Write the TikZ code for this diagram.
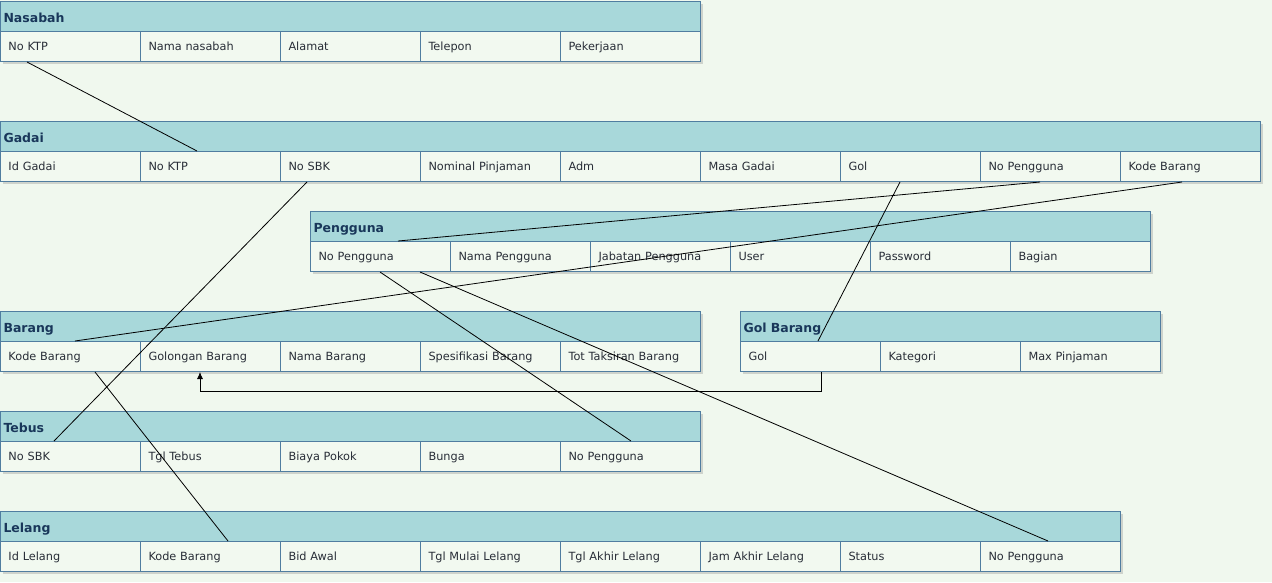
\documentclass[tikz,border=0pt]{standalone}
\usepackage{fontspec}
\setmainfont{DejaVu Sans}
\usepackage{tikz}
\usetikzlibrary{shadows,arrows.meta}
\definecolor{bgcol}{RGB}{240,248,238}
\definecolor{headcol}{RGB}{168,216,218}
\definecolor{edgecol}{RGB}{80,125,160}
\definecolor{headtext}{RGB}{25,55,90}
\definecolor{celltext}{RGB}{40,45,55}
\definecolor{cellcol}{RGB}{242,249,240}

\begin{document}
\begin{tikzpicture}[x=1pt,y=-1pt,
  head/.style={draw=edgecol,line width=1pt,fill=headcol,anchor=north west,minimum height=30pt,
    inner xsep=3pt,inner ysep=0pt,text width=#1pt,align=left,text height=12pt,text depth=1pt,
    font=\fontsize{12.5}{14}\selectfont\bfseries,text=headtext,
    drop shadow={shadow xshift=2.5pt,shadow yshift=-2.5pt,opacity=0.3}},
  cell/.style={draw=edgecol,line width=1pt,fill=cellcol,anchor=north west,minimum height=30pt,
    inner xsep=8pt,inner ysep=0pt,text width=124pt,align=left,text height=9pt,text depth=2pt,
    font=\fontsize{11.3}{13}\selectfont,text=celltext,
    drop shadow={shadow xshift=2.5pt,shadow yshift=-2.5pt,opacity=0.3}},
  link/.style={black,line width=0.8pt}]
\fill[bgcol] (0,0) rectangle (1272,582);
\useasboundingbox (0,0) rectangle (1272,582);

\node[head=694] (nasabah) at (0,1) {Nasabah};
\node[cell] (nasabah-ktp) at (0,31) {No KTP};
\node[cell] (nasabah-nama) at (140,31) {Nama nasabah};
\node[cell] (nasabah-alamat) at (280,31) {Alamat};
\node[cell] (nasabah-telepon) at (420,31) {Telepon};
\node[cell] (nasabah-kerja) at (560,31) {Pekerjaan};

\node[head=1254] (gadai) at (0,121) {Gadai};
\node[cell] (gadai-id) at (0,151) {Id Gadai};
\node[cell] (gadai-ktp) at (140,151) {No KTP};
\node[cell] (gadai-sbk) at (280,151) {No SBK};
\node[cell] (gadai-nominal) at (420,151) {Nominal Pinjaman};
\node[cell] (gadai-adm) at (560,151) {Adm};
\node[cell] (gadai-masa) at (700,151) {Masa Gadai};
\node[cell] (gadai-gol) at (840,151) {Gol};
\node[cell] (gadai-pengguna) at (980,151) {No Pengguna};
\node[cell] (gadai-kode) at (1120,151) {Kode Barang};

\node[head=834] (pengguna) at (310,211) {Pengguna};
\node[cell] (pengguna-no) at (310,241) {No Pengguna};
\node[cell] (pengguna-nama) at (450,241) {Nama Pengguna};
\node[cell] (pengguna-jabatan) at (590,241) {Jabatan Pengguna};
\node[cell] (pengguna-user) at (730,241) {User};
\node[cell] (pengguna-pass) at (870,241) {Password};
\node[cell] (pengguna-bagian) at (1010,241) {Bagian};

\node[head=694] (barang) at (0,311) {Barang};
\node[cell] (barang-kode) at (0,341) {Kode Barang};
\node[cell] (barang-gol) at (140,341) {Golongan Barang};
\node[cell] (barang-nama) at (280,341) {Nama Barang};
\node[cell] (barang-spek) at (420,341) {Spesifikasi Barang};
\node[cell] (barang-taksiran) at (560,341) {Tot Taksiran Barang};

\node[head=414] (golbarang) at (740,311) {Gol Barang};
\node[cell] (golbarang-gol) at (740,341) {Gol};
\node[cell] (golbarang-kategori) at (880,341) {Kategori};
\node[cell] (golbarang-max) at (1020,341) {Max Pinjaman};

\node[head=694] (tebus) at (0,411) {Tebus};
\node[cell] (tebus-sbk) at (0,441) {No SBK};
\node[cell] (tebus-tgl) at (140,441) {Tgl Tebus};
\node[cell] (tebus-biaya) at (280,441) {Biaya Pokok};
\node[cell] (tebus-bunga) at (420,441) {Bunga};
\node[cell] (tebus-pengguna) at (560,441) {No Pengguna};

\node[head=1114] (lelang) at (0,511) {Lelang};
\node[cell] (lelang-id) at (0,541) {Id Lelang};
\node[cell] (lelang-kode) at (140,541) {Kode Barang};
\node[cell] (lelang-bid) at (280,541) {Bid Awal};
\node[cell] (lelang-mulai) at (420,541) {Tgl Mulai Lelang};
\node[cell] (lelang-akhir) at (560,541) {Tgl Akhir Lelang};
\node[cell] (lelang-jam) at (700,541) {Jam Akhir Lelang};
\node[cell] (lelang-status) at (840,541) {Status};
\node[cell] (lelang-pengguna) at (980,541) {No Pengguna};

\draw[link] ([xshift=27pt]nasabah-ktp.south west) -- ([xshift=57pt]gadai-ktp.north west);
\draw[link] ([xshift=27pt]gadai-sbk.south west) -- ([xshift=54pt]tebus-sbk.north west);
\draw[link] ([xshift=60pt]gadai-pengguna.south west) -- ([xshift=88pt]pengguna-no.north west);
\draw[link] ([xshift=62pt]gadai-kode.south west) -- ([xshift=75pt]barang-kode.north west);
\draw[link] ([xshift=60pt]gadai-gol.south west) -- ([xshift=78pt]golbarang-gol.north west);
\draw[link] ([xshift=70pt]pengguna-no.south west) -- ([xshift=71pt]tebus-pengguna.north west);
\draw[link] ([xshift=110pt]pengguna-no.south west) -- ([xshift=68pt]lelang-pengguna.north west);
\draw[link] ([xshift=95pt]barang-kode.south west) -- ([xshift=88pt]lelang-kode.north west);
\draw[link,-{Latex[length=7pt,width=6pt]}] ([xshift=81pt]golbarang-gol.south west) -- ++(0,19) -| ([xshift=60pt]barang-gol.south west);
\end{tikzpicture}
\end{document}
